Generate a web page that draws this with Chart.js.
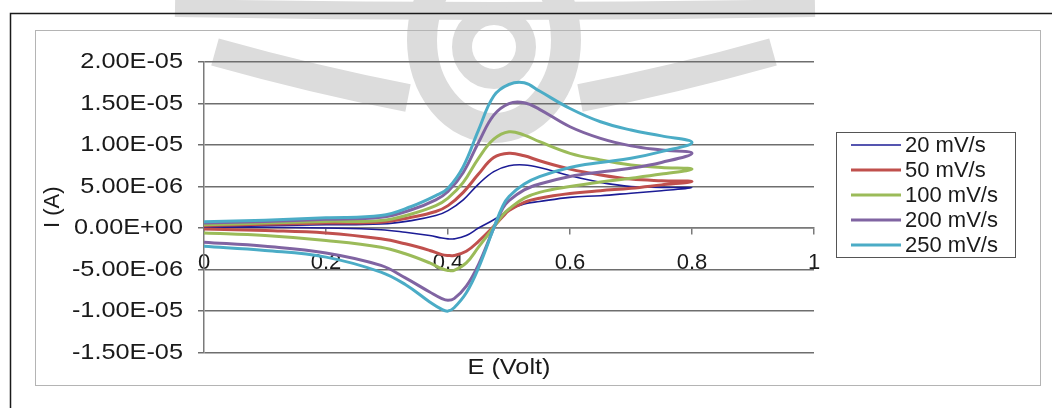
<!DOCTYPE html>
<html>
<head>
<meta charset="utf-8">
<script src="https://cdn.jsdelivr.net/npm/chart.js@4.4.1/dist/chart.umd.min.js"></script>
<style>
  html, body { margin:0; padding:0; background:#fff; }
  #wrap { width:1052px; height:408px; position:relative; }
</style>
</head>
<body>
<div id="wrap"><canvas id="cv"></canvas></div>
<script>
/* cyclic voltammograms at five scan rates, E (V) vs I (A) */
const FWD_E = [0, 0.1, 0.2, 0.29, 0.34, 0.38, 0.40, 0.425, 0.45, 0.475, 0.50, 0.525, 0.55, 0.60, 0.65, 0.70, 0.75, 0.80];
const REV_E = [0.75, 0.70, 0.65, 0.60, 0.55, 0.525, 0.50, 0.49, 0.475, 0.45, 0.43, 0.41, 0.40, 0.39, 0.37, 0.33, 0.29, 0.2, 0.1, 0];

// currents in units of 1E-06 A
const I20_FWD  = [0.2, 0.3, 0.4, 0.5, 0.9, 1.5, 2.1, 3.4, 5.3, 6.8, 7.5, 7.6, 7.3, 6.3, 5.5, 5.0, 4.9, 4.85];
const I50_FWD  = [0.3, 0.45, 0.6, 0.7, 1.3, 2.0, 2.7, 4.3, 6.5, 8.5, 9.0, 8.7, 8.1, 7.1, 6.4, 5.9, 5.7, 5.6];
const I100_FWD = [0.4, 0.6, 0.8, 0.9, 1.7, 2.7, 3.6, 5.5, 8.4, 10.7, 11.6, 11.2, 10.4, 9.0, 8.2, 7.6, 7.3, 7.1];
const I200_FWD = [0.6, 0.8, 1.05, 1.3, 2.2, 3.4, 4.4, 6.7, 10.3, 13.6, 15.0, 15.1, 14.3, 12.2, 10.8, 9.9, 9.4, 9.0];
const I250_FWD = [0.75, 0.95, 1.25, 1.5, 2.6, 3.9, 4.8, 7.4, 11.8, 15.9, 17.3, 17.5, 16.5, 14.4, 12.8, 11.8, 11.1, 10.3];

const I20_REV  = [4.5, 4.2, 3.9, 3.7, 3.2, 2.9, 2.2, 1.7, 1.0, 0.0, -0.9, -1.3, -1.3, -1.2, -0.9, -0.5, -0.2, 0.0, 0.1, 0.1];
const I50_REV  = [5.2, 4.8, 4.5, 4.15, 3.6, 3.1, 2.1, 1.4, 0.2, -1.6, -2.8, -3.3, -3.3, -3.2, -2.7, -1.9, -1.3, -0.6, -0.3, -0.1];
const I100_REV = [6.5, 6.0, 5.55, 5.0, 4.3, 3.6, 2.3, 1.6, 0.1, -2.3, -4.2, -5.1, -5.1, -4.9, -4.2, -3.1, -2.3, -1.5, -0.9, -0.6];
const I200_REV = [7.9, 7.2, 6.75, 6.2, 5.3, 4.6, 3.3, 2.4, 0.0, -4.4, -7.0, -8.5, -8.7, -8.5, -7.7, -6.0, -4.5, -3.0, -2.2, -1.7];
const I250_REV = [9.2, 8.4, 7.9, 7.3, 6.2, 5.3, 3.8, 2.7, 0.0, -4.8, -7.8, -9.6, -10.0, -9.8, -8.9, -6.8, -5.3, -3.5, -2.7, -2.2];

const LABELS = ['20 mV/s', '50 mV/s', '100 mV/s', '200 mV/s', '250 mV/s'];
const COLORS = ['#1c1c96', '#c0504d', '#9bbb59', '#8064a2', '#4bacc6'];
const WIDTHS = [1.6, 3, 3, 3, 3];
const X_TICKS = [0, 0.2, 0.4, 0.6, 0.8, 1];
const Y_MIN = -1.5e-5, Y_MAX = 2e-5, Y_STEP = 5e-6;

const FWD = [I20_FWD, I50_FWD, I100_FWD, I200_FWD, I250_FWD];
const REV = [I20_REV, I50_REV, I100_REV, I200_REV, I250_REV];

function loop(fwd, rev) {
  const a = FWD_E.map((e, i) => ({ x: e, y: fwd[i] * 1e-6 }));
  const b = REV_E.map((e, i) => ({ x: e, y: rev[i] * 1e-6 }));
  return a.concat(b);
}

function sci(v) {
  if (Math.abs(v) < 1e-12) return '0.00E+00';
  const [m, e] = v.toExponential(2).split('e');
  const n = parseInt(e, 10);
  return m + 'E' + (n < 0 ? '-' : '+') + String(Math.abs(n)).padStart(2, '0');
}

const FONT = '"Liberation Sans", Arial, sans-serif';
const FS = 22;
const STRETCH = 1.15; // the source picture's text is widened
Chart.defaults.font.family = FONT;
Chart.defaults.font.size = FS;
Chart.defaults.color = '#1a1a1a';

// faint logo watermark behind the plot (rough shapes)
function watermark(ctx) {
  ctx.save();
  ctx.strokeStyle = '#dcdcdc'; ctx.fillStyle = '#dcdcdc';
  ctx.lineWidth = 18;
  ctx.beginPath(); ctx.moveTo(175, 8); ctx.quadraticCurveTo(494, 14, 815, 8); ctx.stroke();
  ctx.lineWidth = 28;
  ctx.beginPath(); ctx.moveTo(215, 52); ctx.quadraticCurveTo(315, 80, 408, 98); ctx.stroke();
  ctx.beginPath(); ctx.moveTo(773, 52); ctx.quadraticCurveTo(673, 80, 580, 98); ctx.stroke();
  ctx.lineWidth = 30;
  ctx.beginPath(); ctx.ellipse(494, 40, 72, 88, 0, 0, Math.PI * 2); ctx.stroke();
  ctx.lineWidth = 20;
  ctx.beginPath(); ctx.arc(494, 47, 32, 0, Math.PI * 2); ctx.stroke();
  ctx.restore();
}

// widen y tick labels and the x title like the source
function widen(obj, method, cxFn) {
  if (obj[method]._wide) return;
  const orig = obj[method];
  obj[method] = function (...args) {
    const c = this.ctx, cx = cxFn(this);
    c.save(); c.translate(cx, 0); c.scale(STRETCH, 1); c.translate(-cx, 0);
    orig.apply(this, args);
    c.restore();
  };
  obj[method]._wide = true;
}

// page frame + chart box + legend
const decor = {
  id: 'decor',
  afterLayout(chart) {
    widen(chart.scales.y, 'drawLabels', (s) => s.right - 21);
    if (chart.titleBlock) widen(chart.titleBlock, 'draw', (t) => (t.left + t.right) / 2);
  },
  beforeDraw(chart) {
    const ctx = chart.ctx;
    ctx.save();
    ctx.fillStyle = '#fff';
    ctx.fillRect(0, 0, chart.width, chart.height);
    watermark(ctx);
    ctx.strokeStyle = '#1a1a1a'; ctx.lineWidth = 1.5;
    ctx.beginPath(); ctx.moveTo(10.5, chart.height); ctx.lineTo(10.5, 13.5); ctx.lineTo(chart.width, 13.5); ctx.stroke();
    ctx.strokeStyle = '#b4b4b4'; ctx.lineWidth = 1;
    ctx.strokeRect(35.5, 30.5, 1005, 355);
    ctx.restore();
  },
  afterDraw(chart) {
    const ctx = chart.ctx;
    ctx.save();
    ctx.fillStyle = '#fff';
    ctx.fillRect(836, 132, 179, 125);
    ctx.strokeStyle = '#555'; ctx.lineWidth = 1;
    ctx.strokeRect(836.5, 132.5, 179, 125);
    ctx.font = FS + 'px ' + FONT;
    ctx.textBaseline = 'middle';
    chart.data.datasets.forEach((ds, i) => {
      const y = 145 + i * 25;
      ctx.strokeStyle = ds.borderColor; ctx.lineWidth = ds.borderWidth;
      ctx.beginPath(); ctx.moveTo(851, y); ctx.lineTo(901, y); ctx.stroke();
      ctx.fillStyle = '#1a1a1a';
      ctx.fillText(ds.label, 905, y + 1);
    });
    ctx.restore();
  }
};

new Chart(document.getElementById('cv'), {
  type: 'scatter',
  data: {
    datasets: LABELS.map((lab, i) => ({
      label: lab,
      data: loop(FWD[i], REV[i]),
      showLine: true,
      borderColor: COLORS[i],
      backgroundColor: COLORS[i],
      borderWidth: WIDTHS[i],
      pointRadius: 0,
      tension: 0.4,
      order: LABELS.length - i,
    })),
  },
  options: {
    responsive: true,
    maintainAspectRatio: false,
    animation: false,
    devicePixelRatio: 1,
    layout: { padding: { left: 36, top: 62, right: 238, bottom: 27 } },
    plugins: {
      legend: { display: false },
      tooltip: { enabled: false },
      title: {
        display: true, position: 'bottom', fullSize: false, text: 'E (Volt)',
        font: { size: FS, weight: 'normal' }, color: '#1a1a1a', padding: { top: 2, bottom: 0 },
      },
    },
    scales: {
      x: {
        type: 'linear', min: 0, max: 1,
        position: { y: 0 },
        afterBuildTicks: (s) => { s.ticks = X_TICKS.map((v) => ({ value: v })); },
        afterFit: (s) => { s.height = 0; },
        ticks: { padding: 16, color: '#1a1a1a', font: { size: FS }, maxRotation: 0, callback: (v) => String(v) },
        grid: { drawOnChartArea: false, drawTicks: true, tickLength: 6, color: '#7a7a7a', lineWidth: 1.5 },
        border: { display: true, color: '#7a7a7a', width: 1.5 },
      },
      y: {
        min: Y_MIN, max: Y_MAX,
        afterFit: (s) => { s.width = 168; },
        ticks: { stepSize: Y_STEP, padding: 15, color: '#1a1a1a', font: { size: FS }, callback: (v) => sci(v) },
        grid: { color: '#6e6e6e', lineWidth: 1.5, tickLength: 6 },
        border: { display: true, color: '#7a7a7a', width: 1.5 },
        title: { display: true, text: 'I (A)', color: '#1a1a1a', font: { size: FS }, padding: { top: 4, bottom: 0 } },
      },
    },
  },
  plugins: [decor],
});
</script>
</body>
</html>
